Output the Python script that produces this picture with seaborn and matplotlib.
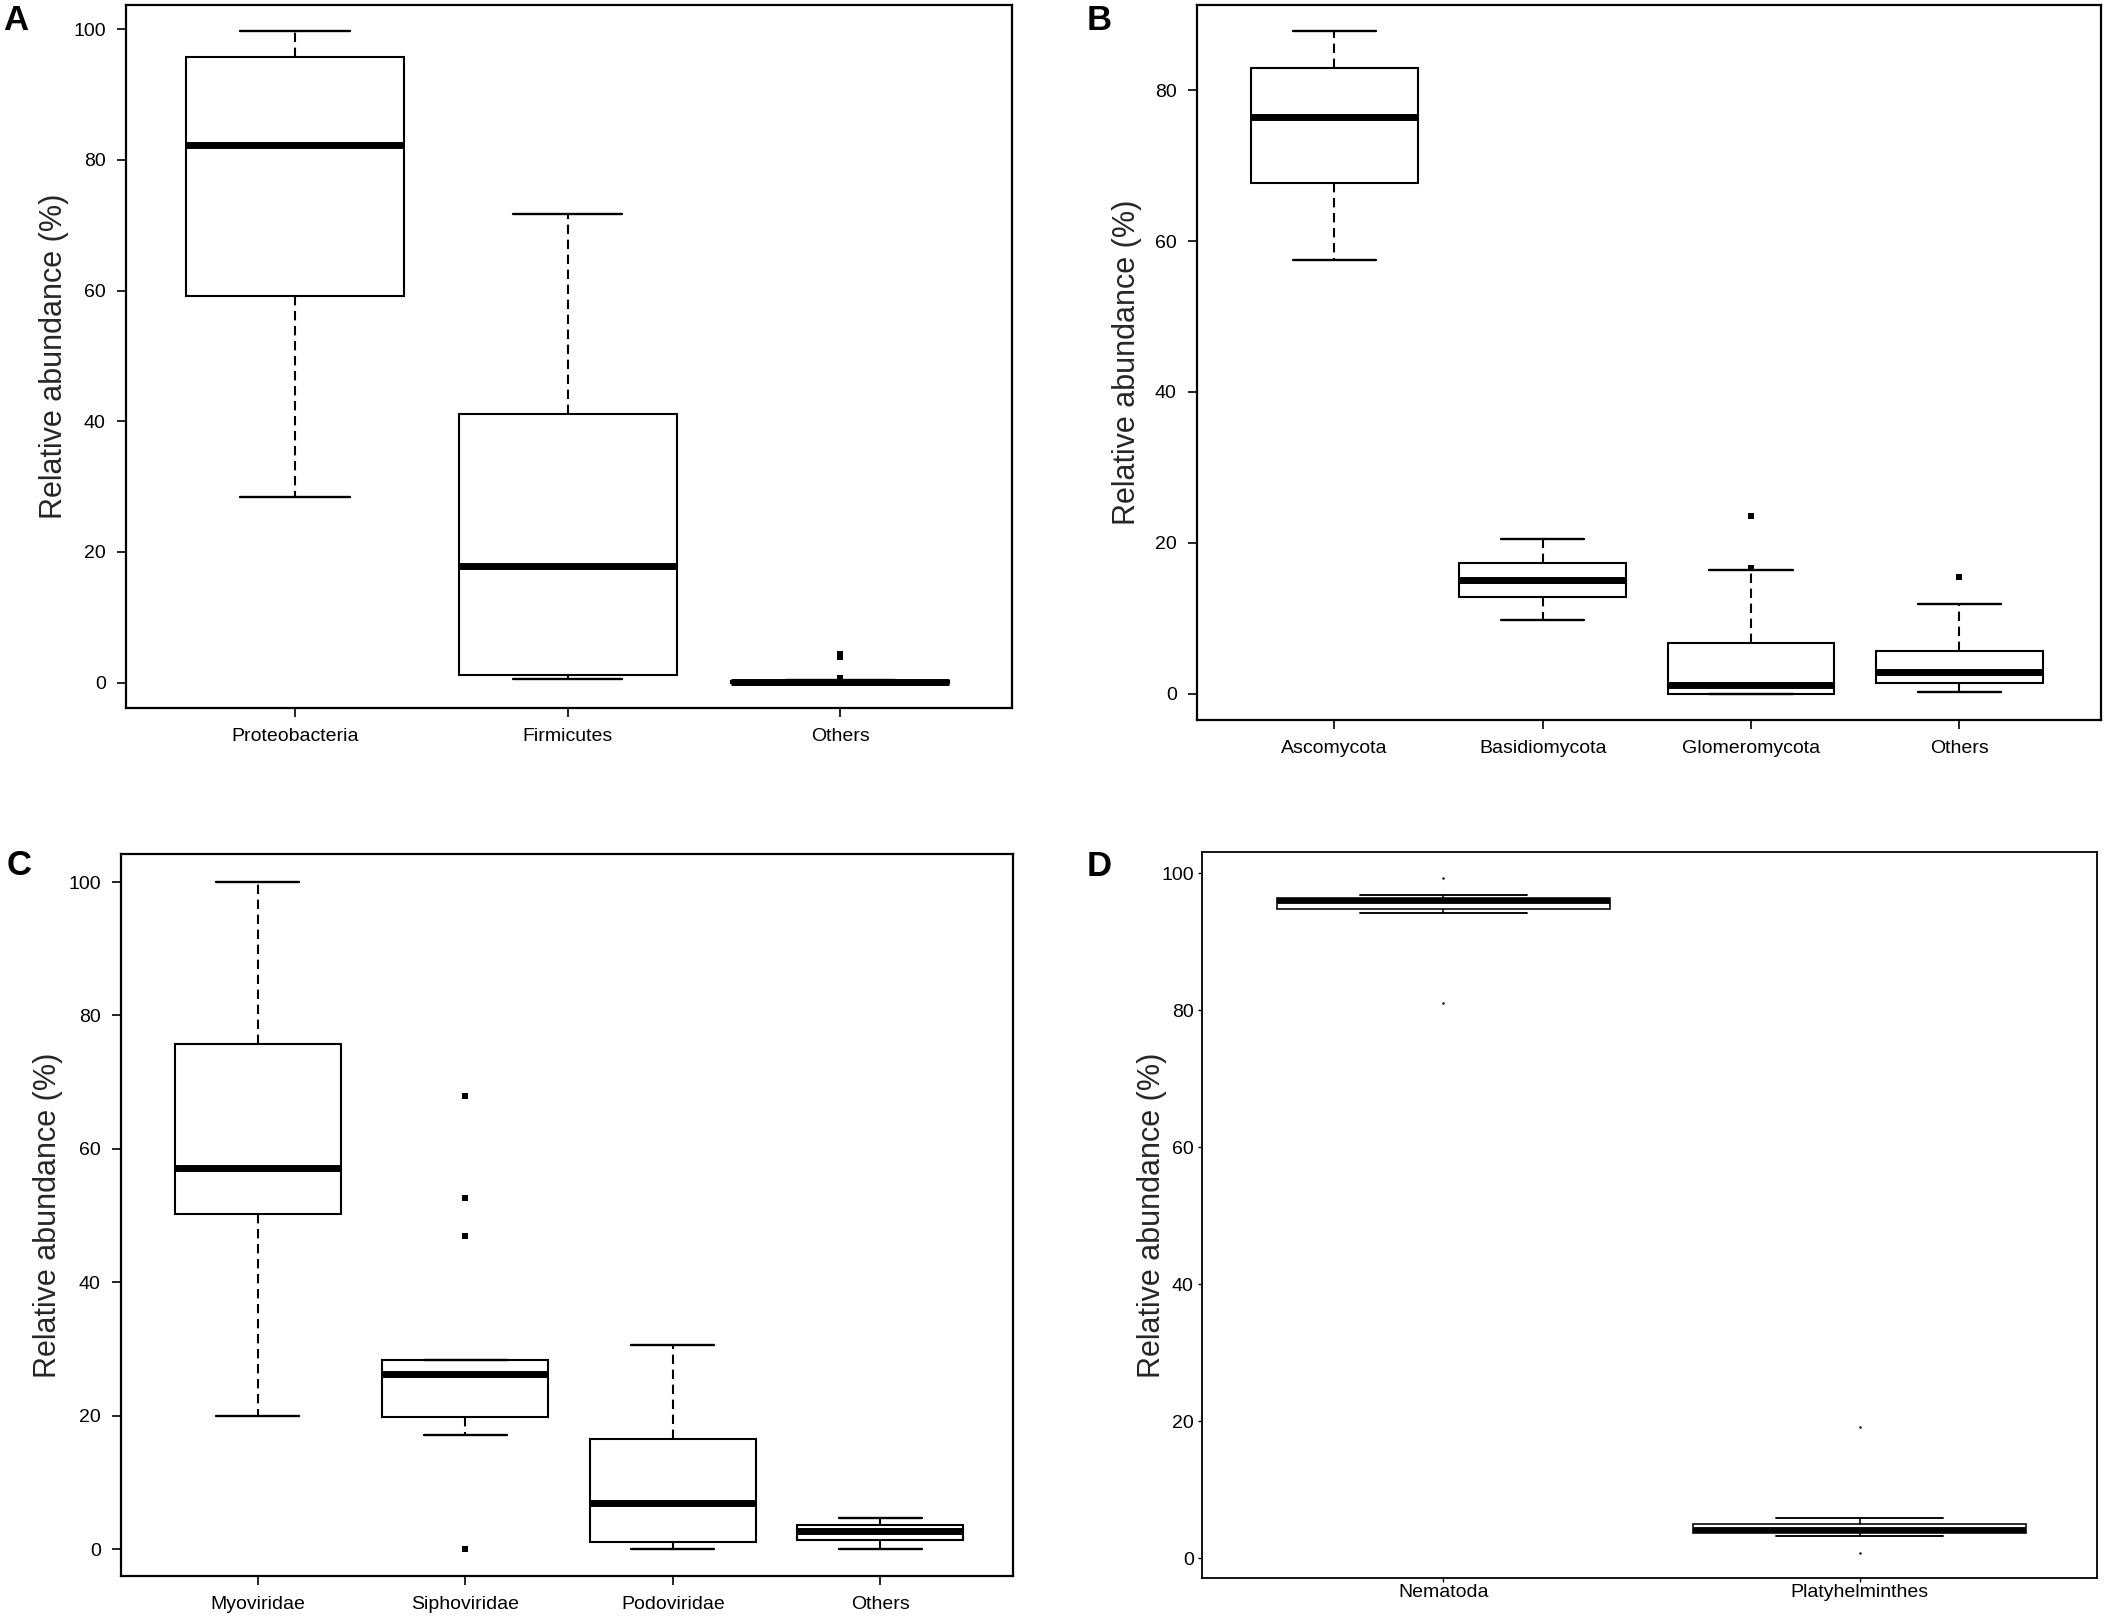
import matplotlib
matplotlib.use("Agg")
import matplotlib.pyplot as plt
import seaborn as sns
import pandas as pd

# ---------------- data ----------------
A_categories = ["Proteobacteria", "Firmicutes", "Others"]
A_whislo = [28.4, 0.5, 0.0]
A_q1 = [59.1, 1.2, 0.0]
A_med = [82.3, 17.8, 0.1]
A_q3 = [95.8, 41.1, 0.2]
A_whishi = [99.7, 71.7, 0.4]
A_out_cat = ["Others", "Others", "Others"]
A_out_val = [4.3, 3.9, 0.7]

B_categories = ["Ascomycota", "Basidiomycota", "Glomeromycota", "Others"]
B_whislo = [57.5, 9.8, 0.0, 0.25]
B_q1 = [67.7, 12.8, 0.0, 1.45]
B_med = [76.4, 15.1, 1.1, 2.8]
B_q3 = [82.9, 17.3, 6.7, 5.7]
B_whishi = [87.85, 20.5, 16.4, 11.9]
B_out_cat = ["Glomeromycota", "Glomeromycota", "Others"]
B_out_val = [23.6, 16.7, 15.4]

C_categories = ["Myoviridae", "Siphoviridae", "Podoviridae", "Others"]
C_whislo = [20.0, 17.1, 0.0, 0.0]
C_q1 = [50.3, 19.8, 1.1, 1.4]
C_med = [57.1, 26.3, 7.0, 2.8]
C_q3 = [75.7, 28.3, 16.6, 3.6]
C_whishi = [100.0, 28.3, 30.6, 4.7]
C_out_cat = ["Siphoviridae", "Siphoviridae", "Siphoviridae", "Siphoviridae"]
C_out_val = [67.9, 52.7, 46.9, 0.0]

D_categories = ["Nematoda", "Platyhelminthes"]
D_whislo = [94.2, 3.3]
D_q1 = [94.8, 3.7]
D_med = [95.9, 4.1]
D_q3 = [96.4, 5.0]
D_whishi = [96.8, 5.9]
D_out_cat = ["Nematoda", "Nematoda", "Platyhelminthes", "Platyhelminthes"]
D_out_val = [99.3, 81.1, 19.1, 0.8]

y_ticks = [0, 20, 40, 60, 80, 100]
y_label = "Relative abundance (%)"

# ---------------- style ----------------
sns.set_style("ticks")
plt.rcParams["font.family"] = ["Liberation Sans", "DejaVu Sans"]
plt.rcParams["axes.edgecolor"] = "black"
plt.rcParams["xtick.color"] = "black"
plt.rcParams["ytick.color"] = "black"
plt.rcParams["text.color"] = "black"

W, H = 2105, 1623
fig = plt.figure(figsize=(W / 100, H / 100), dpi=100)
fig.patch.set_facecolor("white")


def rect(left, top, right, bottom):
    return [left / W, 1 - bottom / H, (right - left) / W, (bottom - top) / H]


def panel(r, cats, whislo, q1, med, q3, whishi, out_cat, out_val,
          xlim, ylim, letter, letter_xy, ylabel_x, thin=False):
    ax = fig.add_axes(r)
    n = len(cats)
    pos = list(range(1, n + 1))
    stats = [dict(label=c, whislo=a, q1=b, med=m, q3=d, whishi=e, fliers=[])
             for c, a, b, m, d, e in zip(cats, whislo, q1, med, q3, whishi)]
    lw = 1.15 if thin else 1.5
    wls = "-" if thin else (0, (4.5, 2.7))
    ax.bxp(stats, positions=pos, widths=0.8, capwidths=0.4, patch_artist=True,
           showfliers=False,
           boxprops=dict(facecolor="white", edgecolor="black", linewidth=lw),
           whiskerprops=dict(color="black", linewidth=lw, linestyle=wls),
           capprops=dict(color="black", linewidth=lw + 0.2),
           medianprops=dict(color="black", linewidth=4.2 if thin else 5,
                            solid_capstyle="butt"))
    odf = pd.DataFrame({"x": [cats.index(c) + 1 for c in out_cat], "y": out_val})
    sns.scatterplot(data=odf, x="x", y="y", ax=ax, marker="s" if not thin else "o",
                    s=3 if thin else 16, color="black", linewidth=0, legend=False,
                    zorder=5)
    ax.set_xticks(pos)
    ax.set_xticklabels(cats)
    ax.set_yticks(y_ticks)
    ax.set_yticklabels([str(t) for t in y_ticks])
    ax.set_xlim(*xlim)
    ax.set_ylim(*ylim)
    ax.set_xlabel("")
    ax.set_ylabel(y_label, fontsize=22)
    ax.yaxis.label.set_va("center")
    ax.yaxis.set_label_coords(ylabel_x, 0.5)
    for s in ax.spines.values():
        s.set_linewidth(1.3 if thin else 1.6)
        s.set_color("black")
    if thin:
        ax.tick_params(axis="y", length=3, width=1, labelsize=14, pad=3)
        ax.tick_params(axis="x", length=3, width=1, labelsize=14, pad=1)
    else:
        ax.tick_params(axis="y", length=6.5, width=1.2, labelsize=14, pad=8)
        ax.tick_params(axis="x", length=6.5, width=1.2, labelsize=14, pad=8)
    fig.text(letter_xy[0] / W, 1 - letter_xy[1] / H, letter, fontsize=25,
             fontweight="bold", ha="left", va="baseline")
    return ax


panel(rect(126, 5, 1012, 708), A_categories, A_whislo, A_q1, A_med, A_q3, A_whishi,
      A_out_cat, A_out_val, (0.38, 3.63), (-3.9, 103.7), "A", (3, 30), -0.081)
panel(rect(1197, 5, 2101, 720), B_categories, B_whislo, B_q1, B_med, B_q3, B_whishi,
      B_out_cat, B_out_val, (0.34, 4.68), (-3.5, 91.3), "B", (1087, 30), -0.077)
panel(rect(121, 854, 1013, 1576), C_categories, C_whislo, C_q1, C_med, C_q3, C_whishi,
      C_out_cat, C_out_val, (0.34, 4.64), (-4.0, 104.2), "C", (7, 875), -0.082)
panel(rect(1202, 852, 2097, 1578), D_categories, D_whislo, D_q1, D_med, D_q3, D_whishi,
      D_out_cat, D_out_val, (0.42, 2.57), (-2.9, 103.1), "D", (1087, 876), -0.056,
      thin=True)

fig.savefig("out.png", dpi=100, facecolor="white")
